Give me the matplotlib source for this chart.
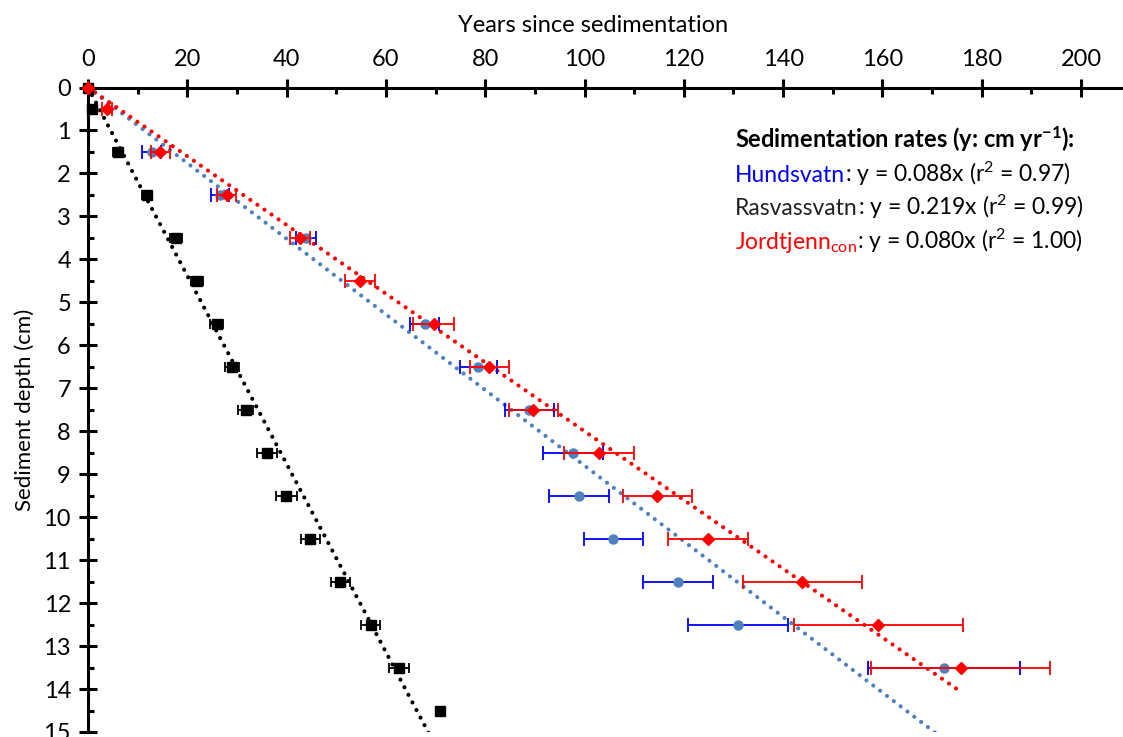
import matplotlib
matplotlib.use('Agg')
import matplotlib.pyplot as plt
from matplotlib.offsetbox import TextArea, HPacker, VPacker, AnchoredOffsetbox
import numpy as np

plt.rcParams['font.family'] = ['Lato', 'DejaVu Sans']
plt.rcParams['mathtext.default'] = 'regular'

# depth (cm) against years since sedimentation
ras_depth = [0, 0.5, 1.5, 2.5, 3.5, 4.5, 5.5, 6.5, 7.5, 8.5, 9.5, 10.5, 11.5, 12.5, 13.5, 14.5]
ras_years = [0, 0.9, 6.0, 11.9, 17.8, 21.9, 25.9, 29.0, 31.8, 36.0, 39.9, 44.8, 50.8, 56.9, 62.7, 70.9]
ras_err = [0, 0.8, 1.0, 1.0, 1.2, 1.2, 1.3, 1.4, 1.5, 2.0, 2.1, 2.0, 1.9, 2.0, 2.0, 0.5]

hund_depth = [0, 1.5, 2.5, 3.5, 5.5, 6.5, 7.5, 8.5, 9.5, 10.5, 11.5, 12.5, 13.5]
hund_years = [0, 12.8, 26.6, 43.9, 67.8, 78.6, 88.9, 97.7, 98.9, 105.8, 118.8, 130.9, 172.4]
hund_err = [0, 1.9, 1.8, 2.0, 2.9, 3.7, 5.0, 6.0, 6.0, 6.0, 7.0, 10.0, 15.3]

jord_depth = [0, 0.5, 1.5, 2.5, 3.5, 4.5, 5.5, 6.5, 7.5, 8.5, 9.5, 10.5, 11.5, 12.5, 13.5]
jord_years = [0, 3.8, 14.6, 27.9, 42.7, 54.8, 69.6, 80.8, 89.7, 102.9, 114.7, 124.9, 143.9, 159.2, 175.8]
jord_err = [0, 1.0, 1.9, 2.0, 2.0, 3.0, 4.1, 3.9, 4.9, 7.0, 7.0, 8.0, 12.0, 17.0, 18.0]

# fitted rates (cm per year) and r^2
rates = {'Hundsvatn': (0.088, 0.97), 'Rasvassvatn': (0.219, 0.99), 'Jordtjenn': (0.080, 1.00)}

steel = '#4f81bd'

fig = plt.figure(figsize=(11.23, 7.37), dpi=100)
ax = fig.add_axes([88 / 1123, 5 / 737, 1 - 88 / 1123, (732 - 87.5) / 737])

def trend(years, slope, color):
    xs = np.array([0, max(years)])
    ax.plot(xs, slope * xs, color=color, lw=3.0, linestyle=(0, (0.01, 2.05)),
            dash_capstyle='round', zorder=2)

trend(hund_years, rates['Hundsvatn'][0], steel)
trend(ras_years, rates['Rasvassvatn'][0], 'black')
trend(jord_years, rates['Jordtjenn'][0], 'red')

common = dict(linestyle='none', elinewidth=1.3, capthick=1.3, clip_on=False)
ax.errorbar(hund_years, hund_depth, xerr=hund_err, marker='o', ms=6.5,
            color=steel, ecolor='blue', capsize=5, zorder=3, **common)
ax.errorbar(ras_years, ras_depth, xerr=ras_err, marker='s', ms=7,
            color='black', ecolor='black', capsize=3.8, zorder=3, **common)
ax.errorbar(jord_years, jord_depth, xerr=jord_err, marker='D', ms=5.8,
            color='red', ecolor='red', capsize=5, zorder=4, **common)

ax.set_xlim(0, (1123 - 88) / 4.965)
ax.set_ylim(15, 0)
ax.xaxis.tick_top()
ax.xaxis.set_label_position('top')
ax.set_xticks(np.arange(0, 201, 20))
ax.set_xticks(np.arange(10, 201, 20), minor=True)
ax.set_yticks(np.arange(0, 16, 1))
ax.set_yticks(np.arange(0.5, 15, 1), minor=True)
ax.tick_params(which='major', direction='inout', length=12.5, width=2.2,
               labelsize=17, pad=6)
ax.tick_params(which='minor', direction='in', length=4.5, width=2.2)
ax.tick_params(axis='x', which='both', top=True, bottom=False)

for side in ('right', 'bottom'):
    ax.spines[side].set_visible(False)
for side in ('left', 'top'):
    ax.spines[side].set_linewidth(2.2)

ax.set_xlabel('Years since sedimentation', fontsize=17)
ax.xaxis.label.set_verticalalignment('baseline')
ax.xaxis.set_label_coords((593.5 - 88) / (1123 - 88), 1 + (87.5 - 32) / (732 - 87.5))
ax.set_ylabel('Sediment depth (cm)', fontsize=16)
ax.yaxis.label.set_verticalalignment('center')
ax.yaxis.set_label_coords(-(88 - 25) / (1123 - 88), 0.5)

# rates box, with coloured lake names
fs = 16.5
def row(name, color, key):
    slope, r2 = rates[key]
    return HPacker(children=[
        TextArea(name, textprops=dict(color=color, fontsize=fs)),
        TextArea(': y = %.3fx (r$^2$ = %.2f)' % (slope, r2), textprops=dict(color='black', fontsize=fs)),
    ], align='baseline', pad=0, sep=0)

box = VPacker(children=[
    TextArea('Sedimentation rates (y: cm yr$^{-1}$):', textprops=dict(fontsize=fs + 0.5, fontweight='bold')),
    row('Hundsvatn', 'blue', 'Hundsvatn'),
    row('Rasvassvatn', '#222222', 'Rasvassvatn'),
    row('Jordtjenn$_{con}$', 'red', 'Jordtjenn'),
], align='left', pad=0, sep=4)
anchored = AnchoredOffsetbox(loc='upper left', child=box, pad=0, borderpad=0, frameon=False,
                             bbox_to_anchor=(735 / 1123, 1 - 124 / 737),
                             bbox_transform=fig.transFigure)
ax.add_artist(anchored)

fig.savefig('out.png', dpi=100)
